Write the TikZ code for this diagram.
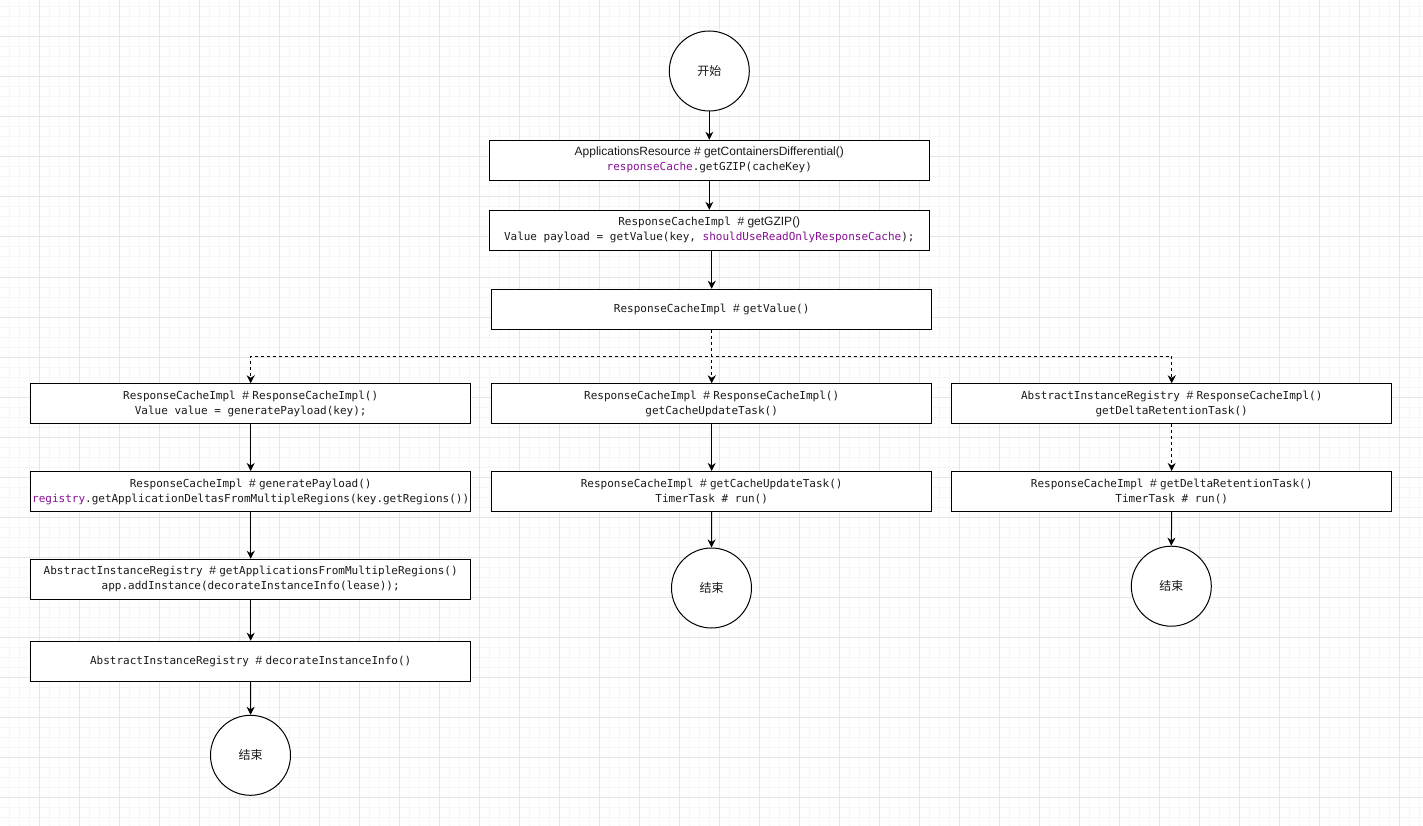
\documentclass[tikz,border=0pt]{standalone}
\usepackage{fontspec}
\setmainfont{Liberation Sans}
\setmonofont{DejaVu Sans Mono}
\newfontfamily\cjk{Noto Sans CJK SC}
\usetikzlibrary{arrows.meta}
\definecolor{codepurple}{HTML}{871094}
\definecolor{gridminor}{HTML}{F6F6F6}
\definecolor{gridmajor}{HTML}{E6E6E6}
\definecolor{ink}{HTML}{1A1A1A}
% code fragments and highlighted identifiers
\newcommand\cd[1]{{\ttfamily\fontsize{11}{15}\selectfont #1}}
\newcommand\kw[1]{\textcolor{codepurple}{#1}}

\begin{document}
\begin{tikzpicture}[x=1pt,y=-1pt,
  stepbox/.style={draw, line width=1pt, minimum width=440pt, minimum height=40pt,
    inner sep=0pt, align=center, text=ink, fill=white,
    font=\fontsize{12}{15}\selectfont},
  endpoint/.style={draw, circle, line width=1pt, minimum size=80pt, inner sep=0pt,
    fill=white, text=ink, font=\cjk\fontsize{12}{15}\selectfont},
  flow/.style={line width=1pt, -{Stealth[length=8pt,width=8pt,inset=2.5pt]}},
  branch/.style={flow, dash pattern=on 3pt off 3pt},
]
\useasboundingbox (0,0) rectangle (1423,826);
\fill[white] (0,0) rectangle (1423,826);

% background grid
\foreach \x in {9,19,...,1419} \draw[gridminor, line width=1pt] (\x,0) -- (\x,826);
\foreach \y in {7,17,...,817} \draw[gridminor, line width=1pt] (0,\y) -- (1423,\y);
\foreach \x in {39,79,...,1399} \draw[gridmajor, line width=1pt] (\x,0) -- (\x,826);
\foreach \y in {37,77,...,797} \draw[gridmajor, line width=1pt] (0,\y) -- (1423,\y);

% main chain
\node[endpoint] (start) at (709.3,71) {开始};
\node[stepbox] (box1) at (709.3,160.3)
  {ApplicationsResource \# getContainersDifferential()\\
   \cd{\kw{responseCache}.getGZIP(cacheKey)}};
\node[stepbox] (box2) at (709.3,230.3)
  {\cd{ResponseCacheImpl }\# getGZIP()\\
   \cd{Value payload = getValue(key, \kw{shouldUseReadOnlyResponseCache});}};
\node[stepbox] (box3) at (711.7,309.3)
  {\cd{ResponseCacheImpl }\# \cd{getValue()}};

% left branch
\node[stepbox] (L1) at (250.7,403.8)
  {\cd{ResponseCacheImpl }\# \cd{ResponseCacheImpl()}\\
   \cd{Value value = generatePayload(key);}};
\node[stepbox] (L2) at (250.7,491.5)
  {\cd{ResponseCacheImpl }\# \cd{generatePayload()}\\
   \cd{\kw{registry}.getApplicationDeltasFromMultipleRegions(key.getRegions())}};
\node[stepbox] (L3) at (250.7,579.3)
  {\cd{AbstractInstanceRegistry }\# \cd{getApplicationsFromMultipleRegions()}\\
   \cd{app.addInstance(decorateInstanceInfo(lease));}};
\node[stepbox] (L4) at (250.7,661.2)
  {\cd{AbstractInstanceRegistry }\# \cd{decorateInstanceInfo()}};
\node[endpoint] (Lend) at (250.5,755.3) {结束};

% middle branch
\node[stepbox] (M1) at (711.7,403.8)
  {\cd{ResponseCacheImpl }\# \cd{ResponseCacheImpl()}\\
   \cd{getCacheUpdateTask()}};
\node[stepbox] (M2) at (711.7,491.5)
  {\cd{ResponseCacheImpl }\# \cd{getCacheUpdateTask()}\\
   \cd{TimerTask \# run()}};
\node[endpoint] (Mend) at (711.5,588) {结束};

% right branch
\node[stepbox] (R1) at (1171.7,403.8)
  {\cd{AbstractInstanceRegistry }\# \cd{ResponseCacheImpl()}\\
   \cd{getDeltaRetentionTask()}};
\node[stepbox] (R2) at (1171.7,491.5)
  {\cd{ResponseCacheImpl }\# \cd{getDeltaRetentionTask()}\\
   \cd{TimerTask \# run()}};
\node[endpoint] (Rend) at (1171.3,586.2) {结束};

% connectors
\coordinate (bus) at (711.7,356);
\draw[flow] (start) -- (box1);
\draw[flow] (box1) -- (box2);
\draw[flow] (box3.north |- box2.south) -- (box3.north);
\draw[branch] (box3.south) -- (M1.north);
\draw[branch] (box3.south) |- (L1.north |- bus) -- (L1.north);
\draw[branch] (box3.south) |- (R1.north |- bus) -- (R1.north);

\draw[flow] (L1) -- (L2);
\draw[flow] (L2) -- (L3);
\draw[flow] (L3) -- (L4);
\draw[flow] (L4) -- (Lend);

\draw[flow] (M1) -- (M2);
\draw[flow] (M2.south) -- (Mend.north);

\draw[branch] (R1) -- (R2);
\draw[flow] (R2.south) -- (Rend.north);
\end{tikzpicture}
\end{document}
